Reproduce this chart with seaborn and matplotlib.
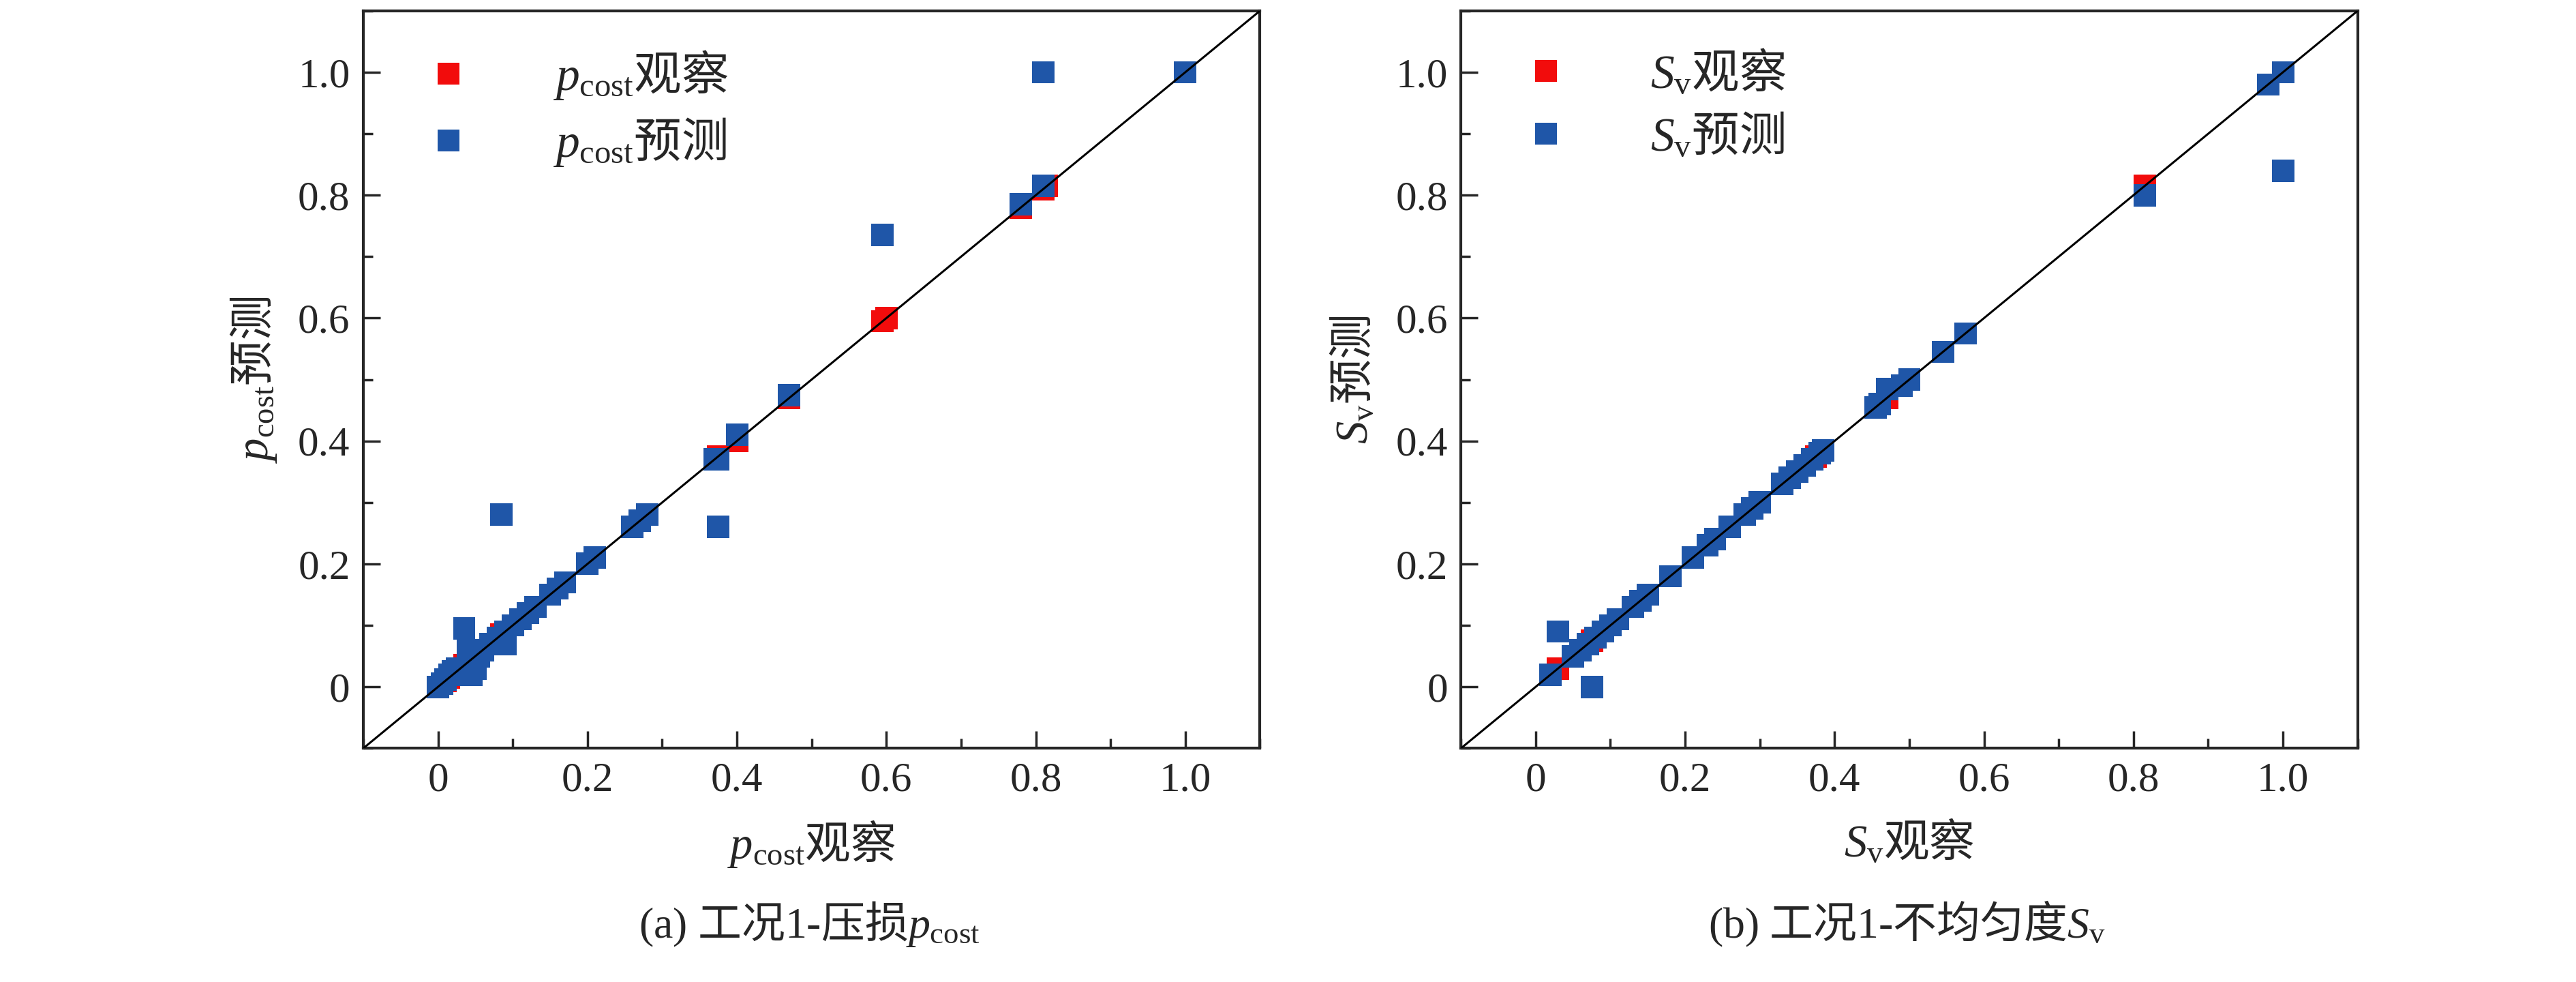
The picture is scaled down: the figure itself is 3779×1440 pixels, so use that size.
import matplotlib.pyplot as plt
import seaborn as sns
import pandas as pd
import numpy as np
from matplotlib.ticker import MultipleLocator

# left panel: pressure loss p_cost
p_obs = [0.0, 0.005, 0.01, 0.015, 0.02, 0.025, 0.03, 0.035, 0.04, 0.045, 0.05, 0.055, 0.06, 0.07, 0.08,
         0.085, 0.09, 0.1, 0.11, 0.12, 0.13, 0.15, 0.16, 0.17, 0.2, 0.21, 0.26, 0.27, 0.28,
         0.375, 0.37, 0.375, 0.4, 0.47, 0.595, 0.78, 0.81, 0.81, 1.0, 0.035, 0.04, 0.05, 0.09]
p_pred = [0.0, 0.005, 0.012, 0.02, 0.025, 0.03, 0.03, 0.095, 0.04, 0.02, 0.04, 0.05, 0.06, 0.07, 0.08,
          0.28, 0.09, 0.1, 0.11, 0.12, 0.13, 0.15, 0.16, 0.17, 0.2, 0.21, 0.26, 0.27, 0.28,
          0.26, 0.37, 0.37, 0.41, 0.475, 0.735, 0.785, 1.0, 0.815, 1.0, 0.03, 0.06, 0.03, 0.07]
p_red_extra = [0.6, 0.815, 0.375]

# right panel: non-uniformity S_v
s_obs = [0.02, 0.03, 0.075, 0.05, 0.06, 0.07, 0.08, 0.09, 0.1, 0.11, 0.13, 0.14, 0.15, 0.18, 0.21, 0.23,
         0.24, 0.26, 0.28, 0.29, 0.3, 0.33, 0.34, 0.35, 0.36, 0.37, 0.38, 0.385, 0.455, 0.46,
         0.47, 0.49, 0.5, 0.545, 0.575, 0.815, 0.98, 1.0, 1.0]
s_pred = [0.02, 0.09, 0.0, 0.05, 0.06, 0.07, 0.08, 0.09, 0.1, 0.11, 0.13, 0.14, 0.15, 0.18, 0.21, 0.23,
          0.24, 0.26, 0.28, 0.29, 0.3, 0.33, 0.34, 0.35, 0.36, 0.37, 0.38, 0.385, 0.455, 0.46,
          0.485, 0.49, 0.5, 0.545, 0.575, 0.8, 0.98, 1.0, 0.84]
s_red_extra = [0.03, 0.815, 1.0, 0.47, 0.375]

sns.set_style('ticks')
plt.rcParams['font.family'] = ['Liberation Serif', 'Noto Sans CJK SC']
plt.rcParams['mathtext.fontset'] = 'custom'
plt.rcParams['mathtext.rm'] = 'Noto Sans CJK SC'
plt.rcParams['mathtext.sf'] = 'Liberation Serif'
plt.rcParams['mathtext.it'] = 'Liberation Serif:italic'

RED = '#f20c0c'
BLUE = '#1f56a8'

fig = plt.figure(figsize=(37.8, 14.4), dpi=100)
axL = fig.add_axes([0.141, 0.238, 0.348, 0.751])
axR = fig.add_axes([0.567, 0.238, 0.348, 0.751])


def panel(ax, obs, pred, extra, sym, cap, capx):
    red = obs + extra
    lab_obs = '$' + sym + r'\mathrm{观察}$'
    lab_pred = '$' + sym + r'\mathrm{预测}$'
    df = pd.DataFrame({
        'x': red + obs,
        'y': red + pred,
        'kind': [lab_obs] * len(red) + [lab_pred] * len(obs),
    })
    sns.scatterplot(data=df, x='x', y='y', hue='kind', palette=[RED, BLUE], marker='s',
                    s=560, linewidth=0, ax=ax)
    ax.plot([-0.1, 1.1], [-0.1, 1.1], color='black', lw=2.2, zorder=5)
    ax.set_xlim(-0.1, 1.1)
    ax.set_ylim(-0.1, 1.1)
    ticks = [0, 0.2, 0.4, 0.6, 0.8, 1.0]
    labs = ['0', '0.2', '0.4', '0.6', '0.8', '1.0']
    ax.set_xticks(ticks, labs)
    ax.set_yticks(ticks, labs)
    ax.xaxis.set_minor_locator(MultipleLocator(0.1))
    ax.yaxis.set_minor_locator(MultipleLocator(0.1))
    ax.tick_params(which='both', direction='in', labelsize=44, width=2.5, top=False, right=False, pad=14)
    ax.tick_params(which='major', length=18)
    ax.tick_params(which='minor', length=10)
    for s in ax.spines.values():
        s.set_linewidth(3)
    ax.set_xlabel(lab_obs, fontsize=48, labelpad=20)
    ax.set_ylabel(lab_pred, fontsize=48, labelpad=20)
    ax.legend(loc='upper left', frameon=False, fontsize=50, markerscale=1.0,
              handletextpad=1.2, borderaxespad=0.4, labelspacing=0.3)
    fig.text(capx, 0.045, cap, fontsize=46, ha='center')


panel(axL, p_obs, p_pred, p_red_extra, r'p_{\mathsf{cost}}',
      r'$\mathsf{(a)\ }\mathrm{工况}\mathsf{1‐}\mathrm{压损}p_{\mathsf{cost}}$', 0.314)
panel(axR, s_obs, s_pred, s_red_extra, r'S_{\mathsf{v}}',
      r'$\mathsf{(b)\ }\mathrm{工况}\mathsf{1‐}\mathrm{不均匀度}S_{\mathsf{v}}$', 0.74)

fig.savefig('out.png', dpi=100)
